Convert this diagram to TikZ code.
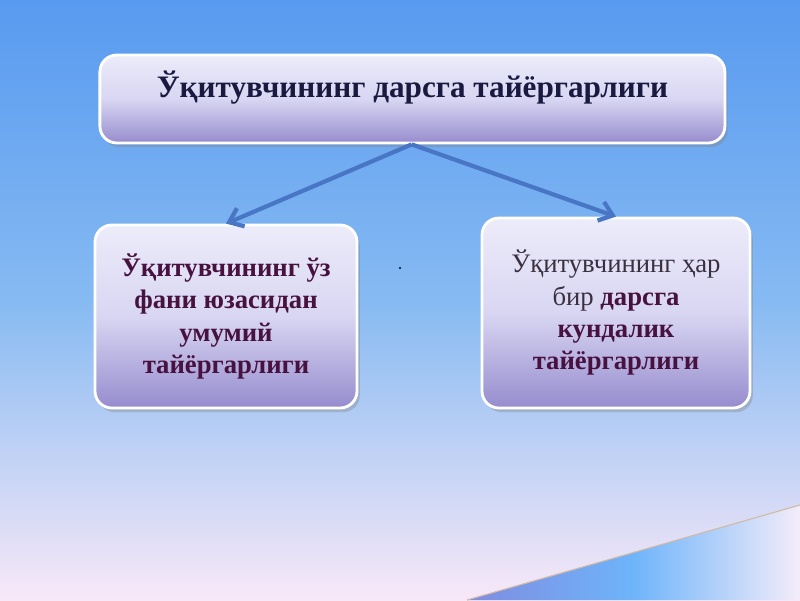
\documentclass[tikz,border=0pt]{standalone}
\usepackage{fontspec}
\setmainfont{Liberation Serif}
\usetikzlibrary{arrows.meta, positioning, shadows}

\definecolor{skytop}{RGB}{88,154,240}
\definecolor{skymid}{RGB}{134,186,242}
\definecolor{skybot}{RGB}{248,232,248}
\definecolor{boxtop}{RGB}{236,236,250}
\definecolor{boxmid}{RGB}{216,214,242}
\definecolor{boxbot}{RGB}{150,140,206}
\definecolor{navytext}{RGB}{26,26,64}
\definecolor{plumtext}{RGB}{72,18,64}
\definecolor{greytext}{RGB}{58,48,64}
\definecolor{arrowblue}{RGB}{72,118,196}
\definecolor{wedgeleft}{RGB}{128,140,224}
\definecolor{wedgemid}{RGB}{110,180,250}
\definecolor{wedgeright}{RGB}{244,236,250}
\definecolor{wedgeedge}{RGB}{210,186,164}

\begin{document}
\begin{tikzpicture}[
    panel/.style={draw=white, line width=2pt, rounded corners=12pt,
        top color=boxtop, bottom color=boxbot, middle color=boxmid,
        drop shadow={shadow xshift=2pt, shadow yshift=-3pt, opacity=0.35},
        align=center, inner sep=0pt},
    link/.style={-{Straight Barb[length=9pt, width=14pt]}, arrowblue, line width=3pt}
]

    % Background
    \shade[top color=skytop, bottom color=skybot, middle color=skymid]
        (0, 0) rectangle (20, 15);
    \useasboundingbox (0, 0) rectangle (20, 15);

    % Corner wedge
    \shade[left color=wedgeleft, right color=wedgeright, middle color=wedgemid]
        (11.675, 0) -- (20, 2.375) -- (20, 0) -- cycle;
    \draw[wedgeedge, line width=0.8pt] (11.675, 0) -- (20, 2.375);

    % Boxes
    \node[panel, minimum width=15.625cm, minimum height=2.2cm, text depth=0.75cm,
        font=\fontsize{22.2}{26}\selectfont\bfseries, text=navytext]
        (title) at (10.31, 12.525) {Ўқитувчининг дарсга тайёргарлиги};

    \node[panel, minimum width=6.55cm, minimum height=4.575cm,
        font=\fontsize{19}{23}\selectfont\bfseries, text=plumtext]
        (general) at (5.65, 7.0875) {Ўқитувчининг ўз\\фани юзасидан\\умумий\\тайёргарлиги};

    \node[panel, minimum width=6.7cm, minimum height=4.75cm,
        font=\fontsize{19}{23}\selectfont, text=greytext]
        (daily) at (15.4, 7.175) {Ўқитувчининг ҳар\\бир {\bfseries\color{plumtext}дарсга}\\{\bfseries\color{plumtext}кундалик}\\{\bfseries\color{plumtext}тайёргарлиги}};

    % Arrows
    \coordinate (fork) at ([xshift=-0.5pt]title.south);
    \draw[link] (fork) -- (general.north);
    \draw[link] (fork) -- (daily.north);

    % Stray dot
    \node[circle, fill=black, inner sep=0.6pt] (dot) at (10, 8.3) {};

\end{tikzpicture}
\end{document}
